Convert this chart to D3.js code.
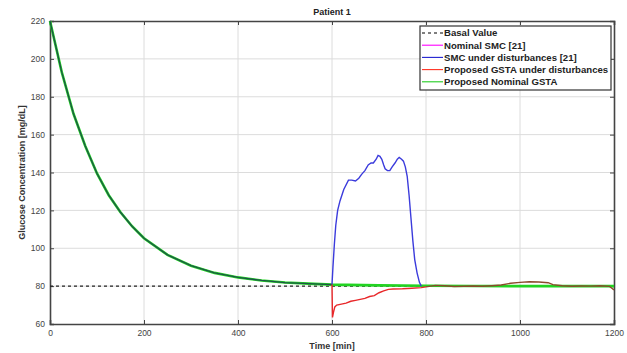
<!DOCTYPE html>
<html><head><meta charset="utf-8">
<script src="https://cdn.jsdelivr.net/npm/d3@7/dist/d3.min.js"></script>
<style>
html,body{margin:0;padding:0;background:#fff;}
svg{display:block;font-family:"Liberation Sans",Arial,sans-serif;}
</style></head>
<body>
<svg id="chart" width="627" height="353"></svg>
<script>
// ---- data ----
const title = "Patient 1";
const xLabel = "Time [min]";
const yLabel = "Glucose Concentration [mg/dL]";
const xTicks = [0, 200, 400, 600, 800, 1000, 1200];
const yTicks = [60, 80, 100, 120, 140, 160, 180, 200, 220];
const basalValue = 80;

// common decay (all controllers, before disturbances start)
const decayTime  = [0, 25, 50, 75, 100, 125, 150, 175, 200, 250, 300, 350, 400, 450, 500, 550, 600];
const decayValue = [220, 193, 171, 154, 139.5, 128, 119, 111.5, 105.3, 96.5, 90.8, 87, 84.6, 83, 81.9, 81.3, 80.8];

// nominal trajectories after t=600
const nominalTime  = [600, 700, 800, 900, 1000, 1100, 1200];
const nominalValue = [80.8, 80.4, 80.2, 80.1, 80, 80, 80];

// SMC under disturbances [21]
const smcDistTime  = [600, 602, 605, 608, 612, 617, 625, 635, 642, 650, 657, 663, 670, 677, 683, 688, 694, 698, 702, 706, 710, 713, 718, 723, 728, 734, 739, 743, 748, 752, 756, 760, 764, 768, 772, 776, 781, 786, 790];
const smcDistValue = [80.8, 90, 102, 112, 120, 125, 131, 136, 136, 135.5, 137, 139, 141, 144, 145, 145, 147, 149, 148.5, 147, 144, 142, 141, 141, 143, 145, 147, 148, 147, 146, 143, 138, 128, 116, 104, 94, 87, 82, 80];

// Proposed GSTA under disturbances
const gstaDistTime  = [600, 601, 603, 606, 610, 620, 630, 640, 650, 660, 670, 680, 690, 700, 710, 720, 730, 750, 770, 790, 800, 820, 840, 860, 880, 900, 920, 940, 960, 980, 1000, 1020, 1040, 1060, 1070, 1090, 1110, 1130, 1150, 1170, 1190, 1200];
const gstaDistValue = [80.8, 63.5, 66, 69, 70, 70.5, 71, 72, 72.5, 73, 73.5, 74.5, 75, 76.5, 77.5, 78.3, 78.5, 78.6, 78.9, 79.2, 79.6, 80.4, 80.2, 79.8, 79.9, 80.1, 79.9, 80.2, 80.6, 81.5, 82, 82.3, 82.2, 81.8, 80.8, 80.2, 79.9, 80.1, 80, 80.2, 79.9, 78];

const legendLabels = ["Basal Value", "Nominal SMC [21]", "SMC under disturbances [21]", "Proposed GSTA under disturbances", "Proposed Nominal GSTA"];
const legendColors = ["#000000", "#ff00ff", "#2020d0", "#ff3020", "#20cc20"];

// ---- drawing ----
const svg = d3.select("#chart");
const m = {left: 50, right: 13, top: 21, bottom: 29};
const W = 627, H = 353;
const x = d3.scaleLinear().domain([0, 1200]).range([m.left, W - m.right]);
const y = d3.scaleLinear().domain([60, 220]).range([H - m.bottom, m.top]);
const x0 = x(0), x1 = x(1200), y0 = y(60), y1 = y(220);

const toPts = (ts, vs) => ts.map((t, i) => [t, vs[i]]);
const line = d3.line().x(d => x(d[0])).y(d => y(d[1]));

// grid
const g = svg.append("g");
g.selectAll(".gx").data(xTicks.slice(1, -1)).join("line")
  .attr("x1", d => x(d)).attr("x2", d => x(d)).attr("y1", y0).attr("y2", y1)
  .attr("stroke", "#dcdcdc").attr("stroke-width", 1);
g.selectAll(".gy").data(yTicks.slice(1, -1)).join("line")
  .attr("y1", d => y(d)).attr("y2", d => y(d)).attr("x1", x0).attr("x2", x1)
  .attr("stroke", "#dcdcdc").attr("stroke-width", 1);

// axes (ticks inward on all sides)
const axB = svg.append("g").attr("transform", `translate(0,${y0})`)
  .call(d3.axisBottom(x).tickValues(xTicks).tickSize(-4).tickPadding(6).tickFormat(d3.format("d")));
const axT = svg.append("g").attr("transform", `translate(0,${y1})`)
  .call(d3.axisTop(x).tickValues(xTicks).tickSize(-4).tickFormat(""));
const axL = svg.append("g").attr("transform", `translate(${x0},0)`)
  .call(d3.axisLeft(y).tickValues(yTicks).tickSize(-4).tickPadding(5).tickFormat(d3.format("d")));
const axR = svg.append("g").attr("transform", `translate(${x1},0)`)
  .call(d3.axisRight(y).tickValues(yTicks).tickSize(-4).tickFormat(""));
[axB, axT, axL, axR].forEach(a => {
  a.select(".domain").attr("stroke", "#444").attr("stroke-width", 1.6);
  a.selectAll(".tick line").attr("stroke", "#444").attr("stroke-width", 1);
  a.selectAll("text").attr("font-size", 8.5).attr("fill", "#444")
    .attr("font-family", "Liberation Sans, Arial, sans-serif");
});

// series
const plot = svg.append("g");
// basal
plot.append("path").datum([[0, basalValue], [1200, basalValue]])
  .attr("d", line).attr("fill", "none").attr("stroke", "#222")
  .attr("stroke-width", 1.2).attr("stroke-dasharray", "3,3");

const nominal = toPts(decayTime, decayValue).concat(toPts(nominalTime, nominalValue).slice(1));
// Nominal SMC (hidden beneath GSTA)
plot.append("path").datum(nominal).attr("d", line).attr("fill", "none")
  .attr("stroke", legendColors[1]).attr("stroke-width", 1.2);
// Proposed nominal GSTA
plot.append("path").datum(nominal).attr("d", line).attr("fill", "none")
  .attr("stroke", "#22d422").attr("stroke-width", 2.6);
// disturbed trajectories share the decay; overlap drawn dark
plot.append("path").datum(toPts(decayTime, decayValue)).attr("d", line).attr("fill", "none")
  .attr("stroke", "#1d5548").attr("stroke-width", 1.3);
// SMC under disturbances
plot.append("path").datum(toPts(smcDistTime, smcDistValue)).attr("d", line).attr("fill", "none")
  .attr("stroke", "#3b3bdc").attr("stroke-width", 1.4);
// GSTA under disturbances
const gd = toPts(gstaDistTime, gstaDistValue);
plot.append("path").datum(gd.filter(d => d[0] <= 800)).attr("d", line).attr("fill", "none")
  .attr("stroke", "#e8282a").attr("stroke-width", 1.4);
plot.append("path").datum(gd.filter(d => d[0] >= 800)).attr("d", line).attr("fill", "none")
  .attr("stroke", "#8c4a2c").attr("stroke-width", 1.4);

// titles
svg.append("text").attr("x", (x0 + x1) / 2).attr("y", 15).attr("text-anchor", "middle")
  .attr("font-size", 9).attr("font-weight", "bold").attr("fill", "#222").text(title);
svg.append("text").attr("x", (x0 + x1) / 2).attr("y", 349).attr("text-anchor", "middle")
  .attr("font-size", 9).attr("font-weight", "bold").attr("fill", "#333").text(xLabel);
svg.append("text").attr("transform", `translate(25,${(y0 + y1) / 2}) rotate(-90)`)
  .attr("text-anchor", "middle").attr("font-size", 9).attr("font-weight", "bold")
  .attr("fill", "#333").text(yLabel);

// legend
const lg = svg.append("g");
lg.append("rect").attr("x", 420).attr("y", 26).attr("width", 191).attr("height", 64)
  .attr("fill", "#fff").attr("stroke", "#333").attr("stroke-width", 1.2);
legendLabels.forEach((lab, i) => {
  const yy = 33 + i * 12.2;
  lg.append("line").attr("x1", 422).attr("x2", 443).attr("y1", yy).attr("y2", yy)
    .attr("stroke", legendColors[i]).attr("stroke-width", 1.1)
    .attr("stroke-dasharray", i === 0 ? "3,3" : null);
  lg.append("text").attr("x", 444).attr("y", yy + 3.3).attr("font-size", 9.6)
    .attr("font-weight", "bold").attr("fill", "#222").text(lab);
});
</script>
</body></html>
